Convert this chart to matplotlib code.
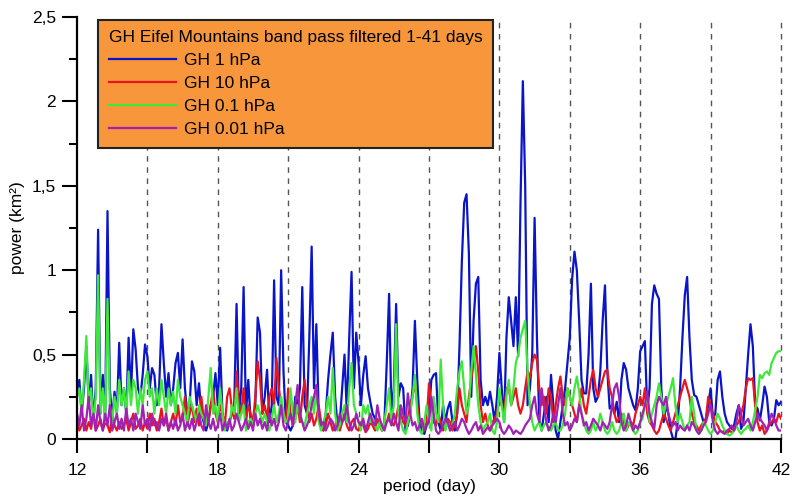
import numpy as np
import matplotlib
matplotlib.use('Agg')
import matplotlib.pyplot as plt
from matplotlib.ticker import MultipleLocator, FuncFormatter

plt.rcParams['font.family'] = ['Liberation Sans', 'DejaVu Sans']

# period grid, 0.1 day steps from 12 to 42
period = np.round(np.arange(120, 421) / 10, 1)

gh_1hpa = [
    0.25, 0.35, 0.15, 0.30, 0.55, 0.20, 0.38, 0.10, 0.30, 1.24,
    0.15, 0.38, 0.10, 1.35, 0.30, 0.12, 0.28, 0.15, 0.57, 0.20,
    0.30, 0.15, 0.60, 0.25, 0.65, 0.53, 0.30, 0.25, 0.38, 0.56,
    0.49, 0.30, 0.42, 0.38, 0.20, 0.30, 0.68, 0.45, 0.25, 0.39,
    0.20, 0.30, 0.45, 0.51, 0.30, 0.59, 0.30, 0.15, 0.20, 0.46,
    0.40, 0.20, 0.33, 0.15, 0.10, 0.05, 0.10, 0.20, 0.25, 0.39,
    0.20, 0.54, 0.15, 0.08, 0.05, 0.10, 0.15, 0.20, 0.80, 0.15,
    0.30, 0.90, 0.15, 0.35, 0.10, 0.08, 0.20, 0.72, 0.63, 0.15,
    0.25, 0.41, 0.10, 0.20, 0.94, 0.25, 0.20, 1.00, 0.40, 0.10,
    0.08, 0.05, 0.08, 0.25, 0.20, 0.30, 0.90, 0.20, 0.15, 0.60,
    1.14, 0.30, 0.68, 0.15, 0.10, 0.05, 0.15, 0.35, 0.50, 0.63,
    0.25, 0.08, 0.10, 0.30, 0.50, 0.15, 0.60, 0.99, 0.30, 0.63,
    0.45, 0.20, 0.38, 0.49, 0.30, 0.22, 0.15, 0.12, 0.10, 0.10,
    0.05, 0.10, 0.45, 0.86, 0.15, 0.30, 0.80, 0.25, 0.33, 0.30,
    0.05, 0.08, 0.15, 0.30, 0.70, 0.35, 0.10, 0.05, 0.03, 0.08,
    0.15, 0.35, 0.38, 0.39, 0.10, 0.05, 0.20, 0.10, 0.18, 0.22,
    0.10, 0.05, 0.15, 0.55, 1.05, 1.40, 1.45, 1.10, 0.25, 0.70,
    0.92, 0.96, 0.35, 0.20, 0.25, 0.20, 0.28, 0.20, 0.10, 0.25,
    0.51, 0.30, 0.10, 0.60, 0.84, 0.70, 0.55, 0.84, 0.49, 1.40,
    2.12, 1.50, 0.20, 0.30, 0.50, 1.31, 0.60, 0.11, 0.05, 0.15,
    0.25, 0.10, 0.38, 0.20, 0.05, 0.00, 0.10, 0.20, 0.30, 0.45,
    0.60, 0.95, 1.11, 1.00, 0.70, 0.35, 0.27, 0.27, 0.50, 0.92,
    0.30, 0.22, 0.25, 0.40, 0.70, 0.91, 0.40, 0.18, 0.20, 0.15,
    0.22, 0.10, 0.35, 0.45, 0.41, 0.30, 0.25, 0.20, 0.17, 0.30,
    0.52, 0.55, 0.58, 0.17, 0.30, 0.80, 0.91, 0.86, 0.83, 0.30,
    0.10, 0.20, 0.15, 0.05, 0.00, 0.00, 0.10, 0.30, 0.60, 0.85,
    0.96, 0.60, 0.35, 0.26, 0.25, 0.20, 0.15, 0.10, 0.12, 0.20,
    0.30, 0.12, 0.15, 0.35, 0.40, 0.25, 0.15, 0.10, 0.08, 0.06,
    0.08, 0.15, 0.20, 0.06, 0.10, 0.30, 0.50, 0.68, 0.55, 0.20,
    0.18, 0.11, 0.20, 0.31, 0.25, 0.10, 0.08, 0.12, 0.23, 0.20,
    0.22,
]

gh_10hpa = [
    0.10, 0.05, 0.08, 0.12, 0.05, 0.10, 0.06, 0.15, 0.05, 0.08,
    0.12, 0.05, 0.10, 0.08, 0.04, 0.15, 0.08, 0.05, 0.10, 0.06,
    0.08, 0.12, 0.05, 0.10, 0.15, 0.06, 0.08, 0.12, 0.05, 0.10,
    0.06, 0.15, 0.08, 0.12, 0.05, 0.10, 0.18, 0.08, 0.12, 0.05,
    0.10, 0.15, 0.08, 0.20, 0.10, 0.12, 0.25, 0.08, 0.15, 0.20,
    0.10, 0.18, 0.08, 0.25, 0.12, 0.15, 0.10, 0.20, 0.30, 0.15,
    0.10, 0.20, 0.15, 0.08, 0.25, 0.30, 0.18, 0.12, 0.40, 0.20,
    0.15, 0.30, 0.10, 0.20, 0.15, 0.10, 0.25, 0.46, 0.35, 0.15,
    0.20, 0.12, 0.25, 0.30, 0.20, 0.48, 0.30, 0.20, 0.15, 0.10,
    0.30, 0.15, 0.08, 0.12, 0.20, 0.10, 0.25, 0.35, 0.20, 0.10,
    0.15, 0.08, 0.12, 0.20, 0.10, 0.05, 0.08, 0.15, 0.10, 0.05,
    0.08, 0.12, 0.05, 0.10, 0.15, 0.08, 0.05, 0.10, 0.12, 0.06,
    0.05, 0.10, 0.08, 0.04, 0.06, 0.10, 0.08, 0.05, 0.12, 0.08,
    0.05, 0.08, 0.10, 0.15, 0.10, 0.08, 0.12, 0.20, 0.15, 0.10,
    0.08, 0.12, 0.20, 0.25, 0.34, 0.20, 0.10, 0.08, 0.05, 0.10,
    0.33, 0.20, 0.10, 0.08, 0.15, 0.10, 0.05, 0.08, 0.12, 0.10,
    0.05, 0.08, 0.15, 0.30, 0.20, 0.15, 0.10, 0.25, 0.35, 0.45,
    0.55, 0.40, 0.20, 0.10, 0.15, 0.08, 0.05, 0.10, 0.12, 0.15,
    0.25, 0.20, 0.15, 0.30, 0.31, 0.20, 0.25, 0.30, 0.20, 0.15,
    0.20, 0.30, 0.40, 0.36, 0.45, 0.50, 0.47, 0.30, 0.20, 0.25,
    0.15, 0.30, 0.25, 0.10, 0.20, 0.30, 0.37, 0.25, 0.20, 0.30,
    0.25, 0.20, 0.15, 0.10, 0.20, 0.30, 0.20, 0.15, 0.25, 0.35,
    0.41, 0.30, 0.25, 0.30, 0.35, 0.40, 0.41, 0.30, 0.25, 0.15,
    0.10, 0.12, 0.15, 0.10, 0.05, 0.08, 0.10, 0.08, 0.15, 0.20,
    0.25, 0.20, 0.30, 0.15, 0.10, 0.08, 0.05, 0.03, 0.05, 0.10,
    0.15, 0.12, 0.08, 0.05, 0.10, 0.15, 0.20, 0.25, 0.30, 0.35,
    0.30, 0.25, 0.15, 0.10, 0.08, 0.05, 0.08, 0.10, 0.12, 0.25,
    0.20, 0.15, 0.10, 0.08, 0.05, 0.04, 0.05, 0.03, 0.05, 0.04,
    0.05, 0.08, 0.10, 0.15, 0.20, 0.30, 0.36, 0.35, 0.36, 0.20,
    0.10, 0.05, 0.08, 0.03, 0.05, 0.08, 0.10, 0.12, 0.10, 0.15,
    0.12,
]

gh_01hpa = [
    0.25, 0.30, 0.15, 0.35, 0.61, 0.20, 0.30, 0.10, 0.25, 0.97,
    0.15, 0.30, 0.10, 0.83, 0.20, 0.10, 0.25, 0.15, 0.35, 0.20,
    0.30, 0.15, 0.40, 0.20, 0.35, 0.30, 0.15, 0.30, 0.20, 0.35,
    0.40, 0.25, 0.30, 0.15, 0.30, 0.20, 0.35, 0.25, 0.15, 0.30,
    0.20, 0.28, 0.15, 0.35, 0.25, 0.20, 0.15, 0.10, 0.25, 0.20,
    0.15, 0.10, 0.20, 0.15, 0.12, 0.08, 0.25, 0.42, 0.15, 0.20,
    0.10, 0.30, 0.15, 0.05, 0.10, 0.08, 0.20, 0.15, 0.30, 0.10,
    0.15, 0.20, 0.05, 0.10, 0.12, 0.08, 0.15, 0.20, 0.15, 0.10,
    0.15, 0.10, 0.05, 0.12, 0.20, 0.10, 0.15, 0.25, 0.15, 0.10,
    0.12, 0.30, 0.15, 0.10, 0.20, 0.15, 0.10, 0.08, 0.15, 0.20,
    0.25, 0.15, 0.30, 0.10, 0.05, 0.10, 0.15, 0.25, 0.15, 0.42,
    0.15, 0.05, 0.08, 0.15, 0.20, 0.10, 0.30, 0.45, 0.20, 0.15,
    0.10, 0.05, 0.20, 0.15, 0.20, 0.10, 0.12, 0.08, 0.05, 0.10,
    0.05, 0.10, 0.20, 0.30, 0.10, 0.20, 0.68, 0.15, 0.10, 0.05,
    0.03, 0.10, 0.15, 0.25, 0.38, 0.15, 0.05, 0.03, 0.10, 0.20,
    0.10, 0.05, 0.25, 0.15, 0.10, 0.47, 0.20, 0.05, 0.10, 0.05,
    0.08, 0.15, 0.30, 0.40, 0.46, 0.30, 0.15, 0.20, 0.40, 0.55,
    0.38, 0.20, 0.10, 0.05, 0.08, 0.10, 0.15, 0.05, 0.03, 0.10,
    0.30, 0.20, 0.10, 0.25, 0.35, 0.20, 0.30, 0.45, 0.50, 0.60,
    0.65, 0.70, 0.40, 0.20, 0.10, 0.05, 0.08, 0.10, 0.05, 0.08,
    0.10, 0.07, 0.05, 0.08, 0.10, 0.05, 0.05, 0.08, 0.15, 0.30,
    0.25, 0.20, 0.30, 0.37, 0.28, 0.15, 0.10, 0.05, 0.03, 0.05,
    0.10, 0.05, 0.08, 0.15, 0.10, 0.05, 0.03, 0.05, 0.10, 0.05,
    0.03, 0.05, 0.10, 0.15, 0.05, 0.10, 0.08, 0.05, 0.03, 0.05,
    0.10, 0.12, 0.20, 0.25, 0.10, 0.15, 0.20, 0.25, 0.33, 0.25,
    0.15, 0.20, 0.25, 0.30, 0.36, 0.20, 0.10, 0.15, 0.10, 0.05,
    0.08, 0.10, 0.25, 0.15, 0.05, 0.03, 0.05, 0.10, 0.08, 0.05,
    0.03, 0.05, 0.10, 0.15, 0.12, 0.08, 0.05, 0.03, 0.02, 0.03,
    0.05, 0.08, 0.05, 0.03, 0.05, 0.06, 0.08, 0.05, 0.10, 0.17,
    0.25, 0.38, 0.36, 0.39, 0.40, 0.38, 0.45, 0.48, 0.51, 0.52,
    0.52,
]

gh_001hpa = [
    0.15, 0.08, 0.20, 0.05, 0.12, 0.25, 0.08, 0.15, 0.05, 0.20,
    0.10, 0.05, 0.15, 0.08, 0.20, 0.05, 0.10, 0.15, 0.06, 0.12,
    0.05, 0.18, 0.08, 0.12, 0.05, 0.15, 0.10, 0.06, 0.20, 0.08,
    0.12, 0.05, 0.15, 0.08, 0.10, 0.05, 0.12, 0.08, 0.15, 0.05,
    0.10, 0.06, 0.12, 0.05, 0.08, 0.15, 0.05, 0.10, 0.06, 0.12,
    0.05, 0.10, 0.15, 0.08, 0.05, 0.20, 0.10, 0.06, 0.12, 0.05,
    0.08, 0.15, 0.05, 0.10, 0.06, 0.12, 0.05, 0.08, 0.15, 0.10,
    0.05, 0.08, 0.12, 0.06, 0.10, 0.05, 0.15, 0.08, 0.12, 0.06,
    0.10, 0.05, 0.15, 0.08, 0.12, 0.05, 0.10, 0.20, 0.08, 0.05,
    0.10, 0.15, 0.08, 0.20, 0.32, 0.15, 0.10, 0.05, 0.08, 0.12,
    0.20, 0.25, 0.32, 0.15, 0.08, 0.10, 0.05, 0.08, 0.12, 0.10,
    0.05, 0.08, 0.15, 0.10, 0.12, 0.20, 0.10, 0.05, 0.08, 0.15,
    0.10, 0.08, 0.12, 0.05, 0.10, 0.15, 0.10, 0.08, 0.20, 0.12,
    0.08, 0.05, 0.10, 0.12, 0.08, 0.15, 0.10, 0.05, 0.20, 0.15,
    0.10, 0.27, 0.15, 0.08, 0.10, 0.05, 0.08, 0.12, 0.05, 0.08,
    0.10, 0.25, 0.15, 0.05, 0.03, 0.05, 0.08, 0.12, 0.10, 0.05,
    0.08, 0.10, 0.05, 0.08, 0.12, 0.10, 0.06, 0.03, 0.05, 0.08,
    0.10, 0.05, 0.08, 0.03, 0.05, 0.07, 0.05, 0.08, 0.10, 0.12,
    0.10, 0.05, 0.03, 0.05, 0.08, 0.06, 0.03, 0.05, 0.04, 0.03,
    0.05, 0.08, 0.10, 0.12, 0.20, 0.25, 0.15, 0.10, 0.30, 0.20,
    0.10, 0.05, 0.08, 0.15, 0.10, 0.20, 0.30, 0.15, 0.08, 0.10,
    0.05, 0.08, 0.12, 0.10, 0.20, 0.15, 0.08, 0.10, 0.05, 0.08,
    0.12, 0.10, 0.08, 0.05, 0.10, 0.08, 0.06, 0.10, 0.20, 0.30,
    0.33, 0.25, 0.10, 0.05, 0.08, 0.15, 0.10, 0.05, 0.08, 0.06,
    0.10, 0.15, 0.20, 0.28, 0.15, 0.10, 0.06, 0.20, 0.25, 0.22,
    0.20, 0.25, 0.15, 0.10, 0.08, 0.10, 0.05, 0.08, 0.06, 0.05,
    0.08, 0.05, 0.10, 0.08, 0.05, 0.03, 0.05, 0.08, 0.10, 0.15,
    0.20, 0.10, 0.05, 0.03, 0.05, 0.04, 0.03, 0.05, 0.06, 0.08,
    0.05, 0.10, 0.20, 0.15, 0.08, 0.10, 0.12, 0.08, 0.05, 0.10,
    0.15, 0.12, 0.10, 0.08, 0.05, 0.10, 0.15, 0.12, 0.08, 0.05,
    0.05,
]

labels = ['GH 1 hPa', 'GH 10 hPa', 'GH 0.1 hPa', 'GH 0.01 hPa']
colors = ['#0a14c8', '#e8141e', '#3ee83a', '#a021b4']
series = [gh_1hpa, gh_10hpa, gh_01hpa, gh_001hpa]

fs = 12.5

fig = plt.figure(figsize=(7.92, 5.01), dpi=100)
ax = fig.add_axes([0.0972, 0.1238, 0.8889, 0.8422])

# dashed guide lines every 3 days
for xv in range(15, 43, 3):
    ax.axvline(xv, color='#555555', linestyle=(0, (4, 4)), linewidth=1,
               zorder=1, clip_on=False)

for y, lab, col in zip(series, labels, colors):
    ax.plot(period, y, color=col, linewidth=1.6, label=lab, zorder=2)

ax.set_xlim(12, 42)
ax.set_ylim(0, 2.5)
ax.xaxis.set_major_locator(MultipleLocator(6))
ax.xaxis.set_minor_locator(MultipleLocator(3))
ax.yaxis.set_major_locator(MultipleLocator(0.5))
ax.yaxis.set_minor_locator(MultipleLocator(0.25))
ax.yaxis.set_major_formatter(FuncFormatter(lambda v, p: ('%g' % v).replace('.', ',')))

for s in ['top', 'right']:
    ax.spines[s].set_visible(False)
for s in ['left', 'bottom']:
    ax.spines[s].set_linewidth(1.6)

ax.tick_params(axis='x', which='both', direction='out', length=10, width=1.5, labelsize=fs, pad=7)
ax.tick_params(axis='y', which='major', direction='out', length=11, width=1.5, labelsize=fs, pad=4)
ax.tick_params(axis='y', which='minor', direction='out', length=6, width=1.5)

ax.set_xlabel('period (day)', fontsize=fs, labelpad=1)
ax.set_ylabel('power (km²)', fontsize=fs, labelpad=5)

leg = ax.legend(loc='upper left', bbox_to_anchor=(0.03, 0.993),
                title='GH Eifel Mountains band pass filtered 1-41 days',
                fontsize=fs, title_fontsize=fs, frameon=True, fancybox=False,
                facecolor='#f7963a', edgecolor='#222222', framealpha=1,
                handlelength=3.9, labelspacing=0.45, borderpad=0.6,
                handletextpad=0.45, borderaxespad=0)
leg.get_frame().set_linewidth(1.5)
leg._legend_box.align = 'left'
leg.set_zorder(5)

fig.savefig('out.png', dpi=100)
